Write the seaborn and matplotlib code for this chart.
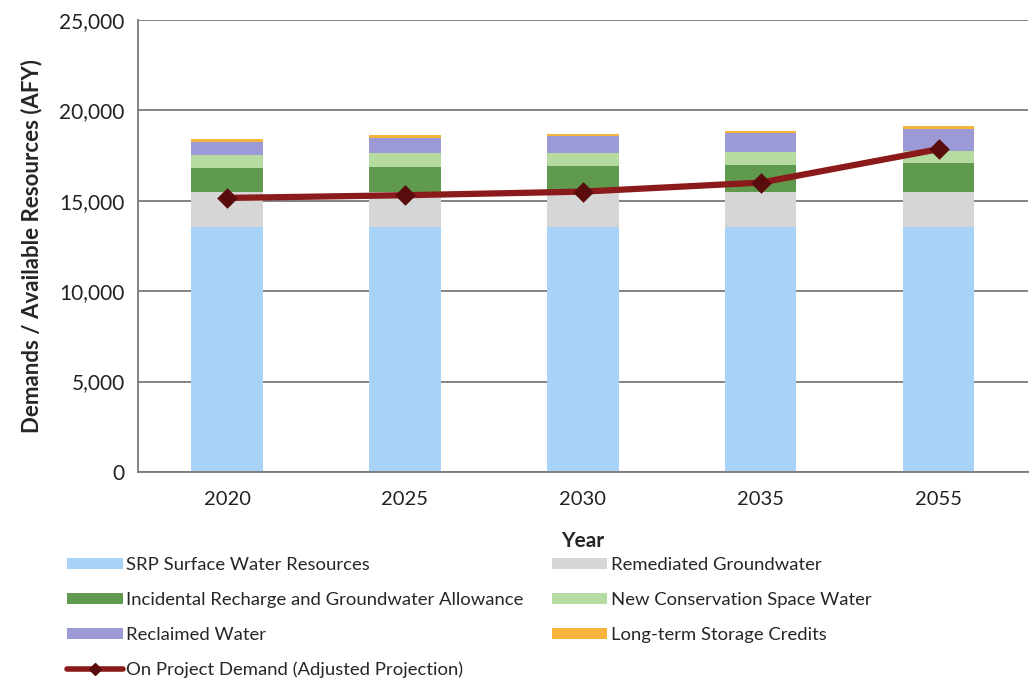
import numpy as np
import seaborn as sns
import matplotlib.pyplot as plt
from matplotlib.patches import Patch
from matplotlib.lines import Line2D
from matplotlib.ticker import FuncFormatter, MultipleLocator, FixedLocator

# datos (AFY)
years = ['2020', '2025', '2030', '2035', '2055']
srp_surface = [13520, 13520, 13520, 13520, 13520]
remediated_gw = [1960, 1970, 1960, 1960, 1960]
incidental_recharge = [1320, 1390, 1430, 1490, 1620]
new_conservation = [720, 740, 710, 720, 640]
reclaimed = [740, 860, 950, 1050, 1220]
longterm_credits = [150, 150, 110, 110, 170]
demand = [15150, 15300, 15500, 16000, 17850]

layer_names = ['SRP Surface Water Resources', 'Remediated Groundwater',
               'Incidental Recharge and Groundwater Allowance', 'New Conservation Space Water',
               'Reclaimed Water', 'Long-term Storage Credits']
layer_colors = ['#a8d2f6', '#d6d6d6', '#5f9a4e', '#b5dba0', '#9c9ad6', '#f5b43c']
line_name = 'On Project Demand (Adjusted Projection)'
line_color = '#8b1a1a'

sns.set_style('white')
plt.rcParams['font.family'] = ['Lato', 'DejaVu Sans']

fig, ax = plt.subplots(figsize=(10.34, 6.83), dpi=100)
fig.subplots_adjust(left=0.1335, right=0.994, top=0.971, bottom=0.309)

layers = [srp_surface, remediated_gw, incidental_recharge, new_conservation, reclaimed, longterm_credits]
tops = np.cumsum(np.array(layers), axis=0)

# barras apiladas: se dibuja la mas alta primero
for i in reversed(range(len(layers))):
    sns.barplot(x=years, y=tops[i], order=years, color=layer_colors[i], saturation=1,
                width=0.4, edgecolor='none', linewidth=0, ax=ax)

sns.pointplot(x=years, y=demand, order=years, color=line_color, markers='D', markersize=7,
              linewidth=4.5, errorbar=None, ax=ax)
for ln in ax.lines:
    ln.set_markerfacecolor('#5a0c0c')
    ln.set_markeredgecolor('#5a0c0c')
    ln.set_zorder(5)

ax.set_xlim(-0.5, 4.5)
ax.set_ylim(0, 25000)
ax.yaxis.set_major_locator(MultipleLocator(5000))
ax.yaxis.set_major_formatter(FuncFormatter(lambda v, p: f'{int(v):,}'))
ax.set_axisbelow(True)
ax.yaxis.grid(True, color='#7a7a7a', linewidth=1.3)
ax.xaxis.grid(False)

for s in ['top', 'right']:
    ax.spines[s].set_visible(False)
for s in ['left', 'bottom']:
    ax.spines[s].set_color('#7a7a7a')
    ax.spines[s].set_linewidth(1.3)

ax.xaxis.set_minor_locator(FixedLocator(np.arange(-0.5, 5, 1)))
ax.tick_params(axis='x', which='major', length=0, labelsize=14.5, pad=14, colors='#222222')
ax.tick_params(axis='x', which='minor', length=6, width=1.3, color='#7a7a7a', direction='out')
ax.tick_params(axis='y', length=6, width=1.3, color='#7a7a7a', direction='out',
               labelsize=15, labelcolor='#222222')

ax.set_xlabel('Year', fontsize=15, fontweight='bold', labelpad=16)
ax.set_ylabel('Demands / Available Resources (AFY)', fontsize=16, fontweight='bold', labelpad=12)

# leyenda en dos columnas (orden por filas como en el original)
patches = [Patch(facecolor=c, edgecolor='none', label=n) for n, c in zip(layer_names, layer_colors)]
line_handle = Line2D([], [], color=line_color, lw=4, marker='D', markersize=6,
                     markerfacecolor='#5a0c0c', markeredgecolor='#5a0c0c', label=line_name)
handles = [patches[0], patches[2], patches[4], line_handle, patches[1], patches[3], patches[5]]
fig.legend(handles=handles, loc='upper left', bbox_to_anchor=(0.058, 0.1956), ncol=2,
           frameon=False, fontsize=13.3, handlelength=3.0, handleheight=0.55,
           handletextpad=0.2, labelspacing=1.03, columnspacing=1.5, borderaxespad=0)

plt.savefig('out.png', dpi=100)
